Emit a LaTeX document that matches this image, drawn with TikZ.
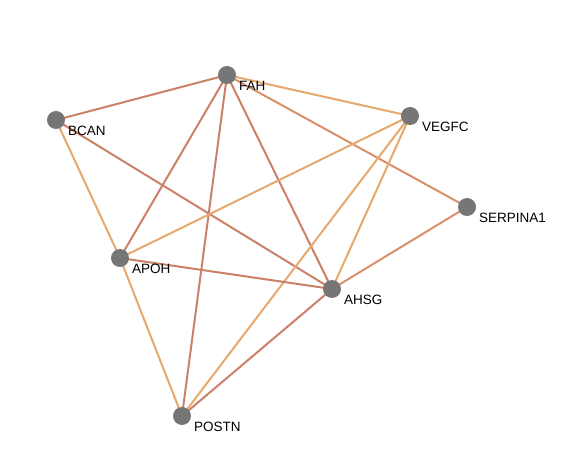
\documentclass[tikz,border=0pt]{standalone}
\usepackage{fontspec}
\setmainfont{Liberation Sans}
\definecolor{ered}{HTML}{CB8068}
\definecolor{emid}{HTML}{D8906A}
\definecolor{eora}{HTML}{E6A86C}
\definecolor{ngray}{HTML}{767676}
\begin{document}
\begin{tikzpicture}[x=1pt,y=-1pt,
  gene/.style={circle,fill=ngray,inner sep=0pt,minimum size=18pt},
  lbl/.style={anchor=west,font=\fontsize{13.5}{15}\selectfont,inner sep=0pt},
  ered/.style={draw=ered,line width=2pt},
  emid/.style={draw=emid,line width=2pt},
  eora/.style={draw=eora,line width=2pt}]
\useasboundingbox (0,0) rectangle (565,462);
\coordinate (FAH) at (227,75);
\coordinate (BCAN) at (56,120);
\coordinate (VEGFC) at (410,116);
\coordinate (SERPINA1) at (467,207);
\coordinate (APOH) at (120,258);
\coordinate (AHSG) at (332,289);
\coordinate (POSTN) at (182,416);
\draw[ered] (BCAN) -- (FAH);
\draw[eora] (FAH) -- (VEGFC);
\draw[emid] (FAH) -- (SERPINA1);
\draw[ered] (FAH) -- (APOH);
\draw[ered] (FAH) -- (POSTN);
\draw[ered] (FAH) -- (AHSG);
\draw[eora] (BCAN) -- (APOH);
\draw[ered] (BCAN) -- (AHSG);
\draw[eora] (VEGFC) -- (APOH);
\draw[eora] (VEGFC) -- (POSTN);
\draw[eora] (VEGFC) -- (AHSG);
\draw[emid] (SERPINA1) -- (AHSG);
\draw[ered] (APOH) -- (AHSG);
\draw[eora] (APOH) -- (POSTN);
\draw[ered] (AHSG) -- (POSTN);
\foreach \n in {FAH,BCAN,VEGFC,SERPINA1,APOH,AHSG,POSTN}{
  \node[gene] (n\n) at (\n) {};
  \node[lbl] (l\n) at ([xshift=12pt,yshift=-11pt]\n) {\n};
}
\end{tikzpicture}
\end{document}
